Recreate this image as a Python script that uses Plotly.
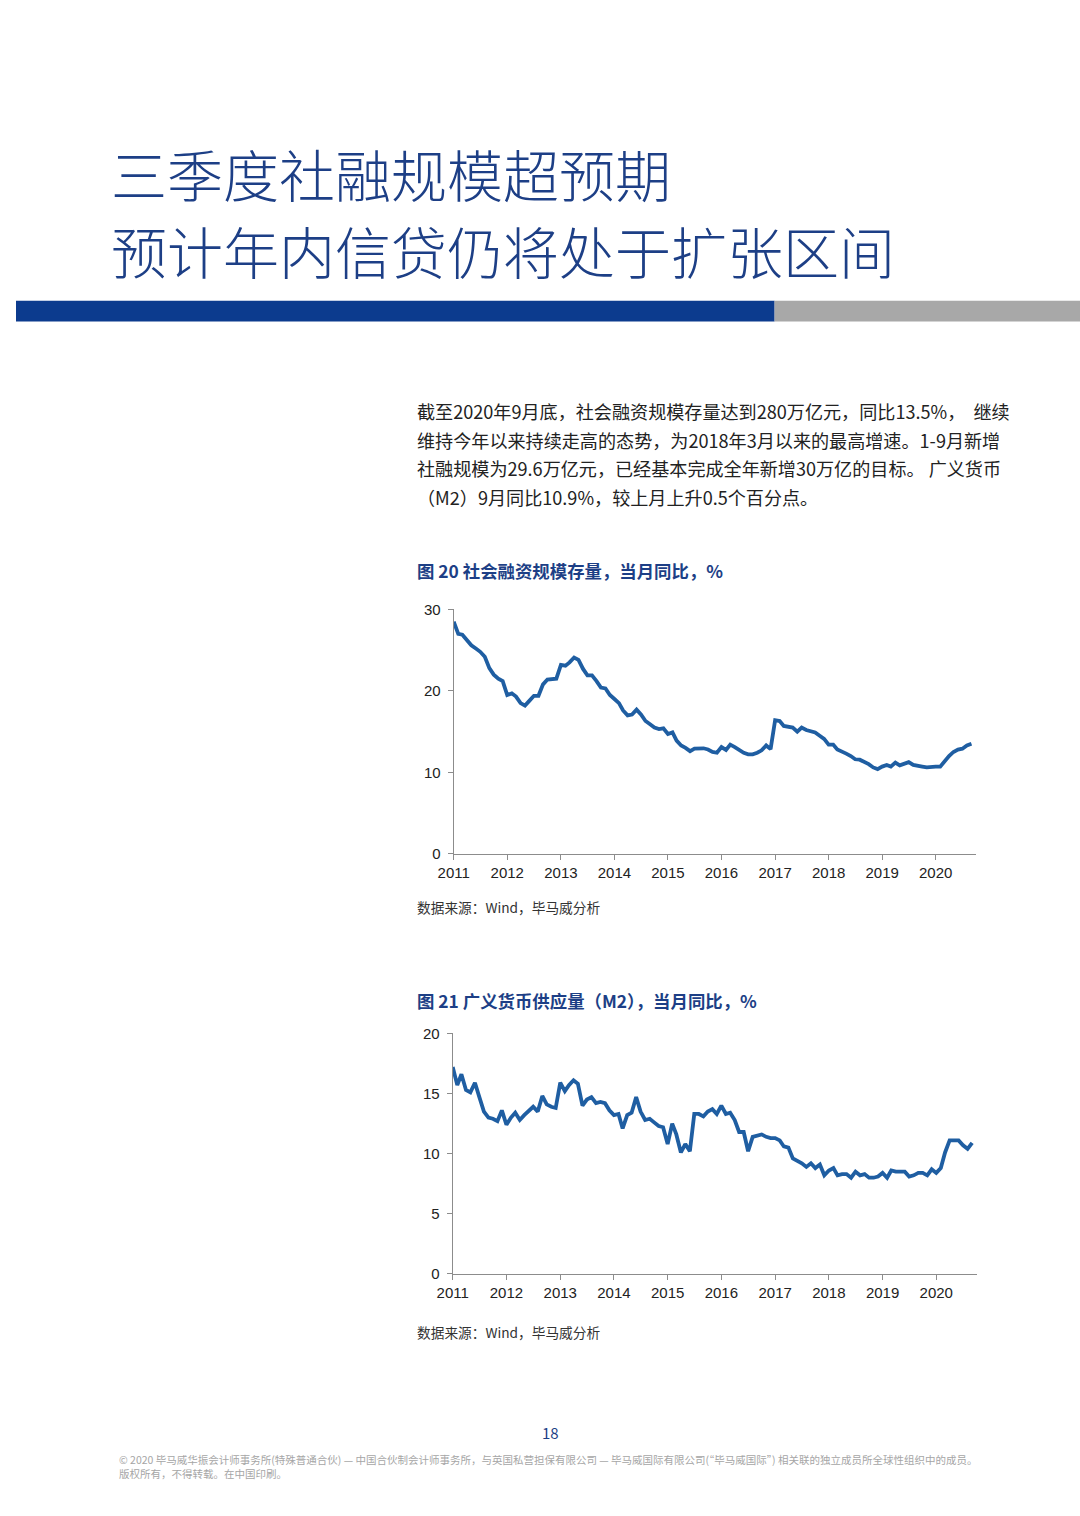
import pandas as pd
import plotly.graph_objects as go

# ---------------- data ----------------
months = pd.date_range("2011-01-01", "2020-09-01", freq="MS")

tsf_yoy = [
    28.5, 27.0, 26.9, 26.2, 25.6, 25.2, 24.8, 24.2, 22.8, 22.0, 21.5, 21.2,   # 2011
    19.5, 19.7, 19.3, 18.5, 18.2, 18.8, 19.4, 19.4, 20.8, 21.4, 21.5, 21.5,   # 2012
    23.2, 23.1, 23.5, 24.1, 23.8, 22.7, 21.9, 21.9, 21.2, 20.4, 20.3, 19.5,   # 2013
    19.0, 18.5, 17.6, 17.0, 17.1, 17.7, 17.1, 16.3, 15.9, 15.5, 15.3, 15.4,   # 2014
    14.7, 14.9, 13.9, 13.3, 13.0, 12.6, 12.9, 12.95, 12.95, 12.8, 12.5, 12.4, # 2015
    13.1, 12.75, 13.4, 13.1, 12.7, 12.4, 12.2, 12.2, 12.4, 12.7, 13.3, 12.85, # 2016
    16.4, 16.3, 15.7, 15.6, 15.5, 15.0, 15.5, 15.2, 15.0, 14.9, 14.5, 14.1,   # 2017
    13.4, 13.4, 12.8, 12.6, 12.3, 12.0, 11.6, 11.55, 11.3, 11.0, 10.6, 10.4,  # 2018
    10.7, 10.9, 10.7, 11.2, 10.85, 11.0, 11.25, 10.9, 10.75, 10.7, 10.6, 10.7,# 2019
    10.7, 10.7, 11.4, 12.0, 12.5, 12.8, 12.9, 13.3, 13.5,                     # 2020
]

m2_yoy = [
    17.2, 15.7, 16.6, 15.3, 15.1, 15.9, 14.7, 13.5, 13.0, 12.9, 12.7, 13.6,   # 2011
    12.4, 13.0, 13.4, 12.8, 13.2, 13.6, 13.9, 13.5, 14.8, 14.1, 13.9, 13.8,   # 2012
    15.9, 15.2, 15.7, 16.1, 15.8, 14.0, 14.5, 14.7, 14.2, 14.3, 14.2, 13.6,   # 2013
    13.2, 13.3, 12.1, 13.2, 13.4, 14.7, 13.5, 12.8, 12.9, 12.6, 12.3, 12.2,   # 2014
    10.8, 12.5, 11.6, 10.1, 10.8, 10.2, 13.3, 13.3, 13.1, 13.5, 13.7, 13.3,   # 2015
    14.0, 13.3, 13.4, 12.8, 11.8, 11.8, 10.2, 11.4, 11.5, 11.6, 11.4, 11.3,   # 2016
    11.3, 11.1, 10.6, 10.5, 9.6, 9.4, 9.2, 8.9, 9.2, 8.8, 9.1, 8.2,           # 2017
    8.6, 8.8, 8.2, 8.3, 8.3, 8.0, 8.5, 8.2, 8.3, 8.0, 8.0, 8.1,               # 2018
    8.4, 8.0, 8.6, 8.5, 8.5, 8.5, 8.1, 8.2, 8.4, 8.4, 8.2, 8.7,               # 2019
    8.4, 8.8, 10.1, 11.1, 11.1, 11.1, 10.7, 10.4, 10.9,                       # 2020
]

year_ticks = [f"{y}-01-01" for y in range(2011, 2021)]
year_labels = [str(y) for y in range(2011, 2021)]
y1_ticks = [0, 10, 20, 30]
y2_ticks = [0, 5, 10, 15, 20]

title_lines = ["三季度社融规模超预期", "预计年内信贷仍将处于扩张区间"]
para_lines = [
    "截至2020年9月底，社会融资规模存量达到280万亿元，同比13.5%，  继续",
    "维持今年以来持续走高的态势，为2018年3月以来的最高增速。1-9月新增",
    "社融规模为29.6万亿元，已经基本完成全年新增30万亿的目标。 广义货币",
    "（M2）9月同比10.9%，较上月上升0.5个百分点。",
]
chart1_title = "图 20 社会融资规模存量，当月同比，%"
chart2_title = "图 21 广义货币供应量（M2），当月同比，%"
source_text = "数据来源：Wind，毕马威分析"
page_no = "18"
footer_lines = [
    "© 2020 毕马威华振会计师事务所(特殊普通合伙) — 中国合伙制会计师事务所，与英国私营担保有限公司 — 毕马威国际有限公司(“毕马威国际”) 相关联的独立成员所全球性组织中的成员。",
    "版权所有，不得转载。在中国印刷。",
]

# ---------------- figure ----------------
W, H = 1080, 1516
CJK = "Noto Sans CJK SC"
LINE = "#1f5ea2"
DARKBLUE = "#1d3f86"


def px(x):
    return x / W


def py(y):
    return 1 - y / H


fig = go.Figure()
fig.add_trace(go.Scatter(x=months, y=tsf_yoy, mode="lines",
                         line=dict(color=LINE, width=3.8), xaxis="x", yaxis="y",
                         showlegend=False, hoverinfo="x+y"))
fig.add_trace(go.Scatter(x=months, y=m2_yoy, mode="lines",
                         line=dict(color=LINE, width=3.8), xaxis="x2", yaxis="y2",
                         showlegend=False, hoverinfo="x+y"))

axis_common = dict(showgrid=False, zeroline=False, showline=True, linecolor="#8c8c8c",
                   linewidth=1.2, ticks="outside", ticklen=5, tickcolor="#8c8c8c",
                   tickfont=dict(family="Liberation Sans, Arial", size=15, color="#222222"))

fig.update_layout(
    width=W, height=H,
    margin=dict(l=0, r=0, t=0, b=0),
    paper_bgcolor="white", plot_bgcolor="white",
    xaxis=dict(domain=[px(444.3), px(974.3)], anchor="y", type="date",
               range=["2011-01-01", "2020-10-01"], tickvals=year_ticks,
               ticktext=year_labels, **axis_common),
    yaxis=dict(domain=[py(854.3), py(607.3)], anchor="x", range=[0, 30],
               tickvals=y1_ticks, ticklabelstandoff=4, **axis_common),
    xaxis2=dict(domain=[px(443.3), px(975)], anchor="y2", type="date",
                range=["2011-01-01", "2020-10-01"], tickvals=year_ticks,
                ticktext=year_labels, **axis_common),
    yaxis2=dict(domain=[py(1279.3), py(1036)], anchor="x2", range=[0, 20],
                tickvals=y2_ticks, ticklabelstandoff=4, **axis_common),
    showlegend=False,
)

# header bars
fig.add_shape(type="rect", xref="paper", yref="paper",
              x0=0, x1=px(770), y0=py(316), y1=py(295),
              fillcolor="#0c3b8e", line=dict(width=0), layer="below")
fig.add_shape(type="rect", xref="paper", yref="paper",
              x0=px(770), x1=1, y0=py(316), y1=py(295),
              fillcolor="#a8a8a8", line=dict(width=0), layer="below")

ann = []


def text(x, y, s, size, color, weight="normal", xanchor="left", family=CJK):
    ann.append(dict(x=px(x), y=py(y), xref="paper", yref="paper", text=s,
                    showarrow=False, xanchor=xanchor, yanchor="middle",
                    font=dict(family=family, size=size, color=color, weight=weight),
                    align="left"))


text(94.5, 165, title_lines[0], 56, DARKBLUE, weight=300)
text(94.5, 243, title_lines[1], 56, DARKBLUE, weight=300)

for i, s in enumerate(para_lines):
    text(405, 407 + i * 28.7, s, 18.1, "#222222")

text(405, 568, chart1_title, 17.4, DARKBLUE, weight="bold")
text(405, 908, source_text, 13.7, "#333333")
text(405, 1003, chart2_title, 17.4, DARKBLUE, weight="bold")
text(405, 1338, source_text, 13.7, "#333333")

text(543, 1440, page_no, 15, DARKBLUE, xanchor="center")
text(103, 1467, footer_lines[0], 10.5, "#a6a6a6")
text(103, 1481, footer_lines[1], 10.5, "#a6a6a6")

fig.update_layout(annotations=ann)

fig.write_html("out.html")
